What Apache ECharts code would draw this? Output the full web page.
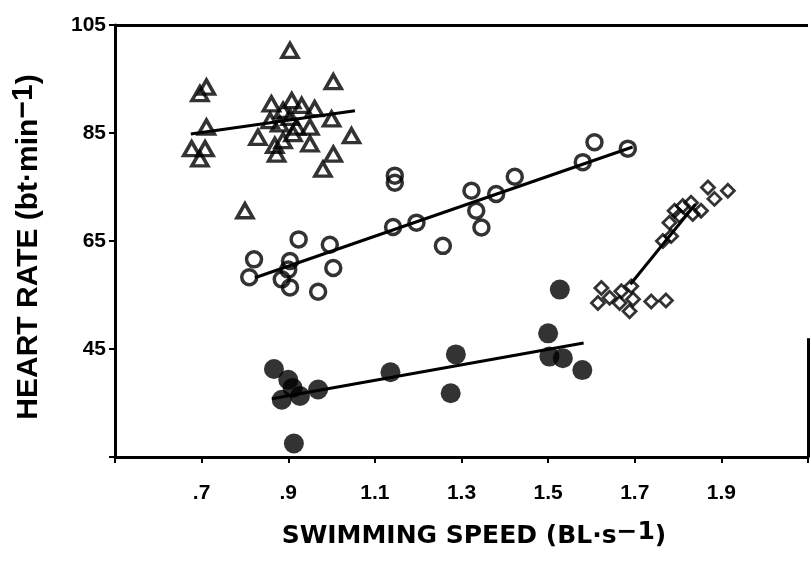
<!DOCTYPE html>
<html>
<head>
<meta charset="utf-8">
<script src="https://cdn.jsdelivr.net/npm/echarts@6/dist/echarts.min.js"></script>
<style>html,body{margin:0;padding:0;background:#fff}#c{width:811px;height:561px}</style>
</head>
<body>
<div id="c"></div>
<script>
// Tick labels
const xTickValues = [0.7, 0.9, 1.1, 1.3, 1.5, 1.7, 1.9];
const xTickLabels = ['.7', '.9', '1.1', '1.3', '1.5', '1.7', '1.9'];
const yTickValues = [45, 65, 85, 105];
const yTickLabels = ['45', '65', '85', '105'];

// Open triangles
const triSpeed = [0.904,1.004,0.711,0.696,0.711,0.677,0.708,0.696,0.80,0.861,0.908,0.931,0.961,1.0,1.046,0.95,0.95,1.004,0.98,0.83,0.869,0.873,0.911,0.888,0.88,0.904,0.888,0.919,0.858];
const triHR    = [100.3,94.5,93.5,92.3,86.1,82.1,82.1,80.2,70.6,90.4,91.0,90.1,89.5,87.6,84.5,86.1,83.0,81.1,78.3,84.2,82.7,81.1,84.9,83.6,86.7,87.9,89.2,86.1,87.3];
// Open circles
const circSpeed = [0.924,0.821,0.81,0.904,0.9,0.885,0.904,0.969,0.996,1.004,1.146,1.146,1.142,1.196,1.257,1.323,1.334,1.346,1.38,1.423,1.58,1.607,1.684];
const circHR    = [65.3,61.6,58.3,61.3,59.7,57.9,56.4,55.6,64.3,60.0,77.1,75.8,67.6,68.4,64.1,74.3,70.6,67.5,73.7,76.9,79.6,83.3,82.1];
// Filled circles
const fillSpeed = [0.867,0.90,0.885,0.91,0.927,0.969,0.913,1.136,1.287,1.275,1.50,1.503,1.534,1.579,1.527];
const fillHR    = [41.3,39.3,35.6,37.8,36.3,37.5,27.5,40.7,44.0,36.8,47.9,43.6,43.3,41.1,56.0];
// Open diamonds
const diaSpeed = [1.623,1.615,1.642,1.669,1.692,1.696,1.688,1.665,1.738,1.772,1.765,1.784,1.78,1.792,1.811,1.83,1.853,1.869,1.884,1.915,1.803,1.834];
const diaHR    = [56.3,53.5,54.5,55.7,56.6,54.2,52.0,53.5,53.8,54.0,65.0,65.9,68.4,70.6,71.5,72.1,70.6,74.9,72.8,74.3,69.7,70.0];

// Regression lines (endpoints)
const triFitX = [0.675, 1.054], triFitY = [84.8, 89.1];
const circFitX = [0.823, 1.695], circFitY = [58.2, 82.4];
const fillFitX = [0.862, 1.582], fillFitY = [35.8, 46.1];
const diaFitX = [1.69, 1.84], diaFitY = [57.0, 71.8];

const zip = (a, b) => a.map((v, i) => [v, b[i]]);
const black = '#000';
const fontFam = '"Liberation Sans", Arial, sans-serif';
const xTitleFam = '"DejaVu Sans", "Liberation Sans", Arial, sans-serif';

const chart = echarts.init(document.getElementById('c'), null, {renderer: 'canvas'});

const openStyle = {color: 'transparent', borderColor: black, borderWidth: 3.5};
const fitSeries = (x, y) => ({
  type: 'line', data: zip(x, y), showSymbol: false, symbol: 'none',
  lineStyle: {color: black, width: 3}, silent: true, z: 1, animation: false
});

chart.setOption({
  animation: false,
  backgroundColor: '#fff',
  grid: {left: 115, right: 3, top: 25, bottom: 104, show: false},
  xAxis: {
    type: 'value', min: 0.5, max: 2.1, interval: 0.2,
    splitLine: {show: false},
    axisLine: {show: true, lineStyle: {color: black, width: 3}},
    axisTick: {show: true, inside: false, length: 6, lineStyle: {color: black, width: 2}},
    axisLabel: {
      show: true, margin: 26, color: black, fontSize: 21, fontWeight: 'bold', fontFamily: fontFam,
      formatter: v => { const i = xTickValues.findIndex(t => Math.abs(t - v) < 1e-6); return i >= 0 ? xTickLabels[i] : ''; }
    },
    name: 'SWIMMING SPEED (BL·s{sup|−1})',
    nameLocation: 'middle', nameGap: 63,
    nameTextStyle: {
      color: black, fontSize: 25, fontFamily: xTitleFam, fontWeight: 'bold', padding: [0, 0, 0, 25],
      rich: {sup: {fontSize: 25, fontFamily: xTitleFam, fontWeight: 'bold', color: black, padding: [0, 0, 8, 0]}}
    }
  },
  yAxis: {
    type: 'value', min: 25, max: 105, interval: 20,
    splitLine: {show: false},
    axisLine: {show: true, lineStyle: {color: black, width: 3}},
    axisTick: {show: true, inside: false, length: 6, lineStyle: {color: black, width: 2}},
    axisLabel: {
      show: true, margin: 9, color: black, fontSize: 21, fontWeight: 'bold', fontFamily: fontFam,
      formatter: v => { const i = yTickValues.findIndex(t => Math.abs(t - v) < 1e-6); return i >= 0 ? yTickLabels[i] : ''; }
    },
    name: 'HEART RATE (bt·min{sup|−1})',
    nameLocation: 'middle', nameGap: 67, nameRotate: 90,
    nameTextStyle: {
      color: black, fontSize: 30, fontFamily: fontFam, fontWeight: 'bold', padding: [0, 12, 0, 0],
      rich: {sup: {fontSize: 30, fontFamily: fontFam, fontWeight: 'bold', color: black, padding: [0, 0, 9, 0]}}
    }
  },
  series: [
    // frame: top edge and partial right edge
    {
      type: 'line', data: [], silent: true, symbol: 'none',
      markLine: {
        silent: true, symbol: 'none', animation: false, label: {show: false},
        lineStyle: {color: black, width: 3, type: 'solid'},
        data: [
          [{coord: [0.5, 105]}, {coord: [2.1, 105]}],
          [{coord: [2.1, 47]}, {coord: [2.1, 25]}]
        ]
      }
    },
    fitSeries(triFitX, triFitY),
    fitSeries(circFitX, circFitY),
    fitSeries(fillFitX, fillFitY),
    fitSeries(diaFitX, diaFitY),
    {type: 'scatter', data: zip(triSpeed, triHR), symbol: 'triangle', symbolSize: [16, 14], itemStyle: openStyle, z: 3},
    {type: 'scatter', data: zip(circSpeed, circHR), symbol: 'circle', symbolSize: 15, itemStyle: openStyle, z: 3},
    {type: 'scatter', data: zip(fillSpeed, fillHR), symbol: 'circle', symbolSize: 20, itemStyle: {color: black}, z: 3},
    {type: 'scatter', data: zip(diaSpeed, diaHR), symbol: 'diamond', symbolSize: 13, itemStyle: {color: 'transparent', borderColor: black, borderWidth: 2.8}, z: 3}
  ]
});
</script>
</body>
</html>
